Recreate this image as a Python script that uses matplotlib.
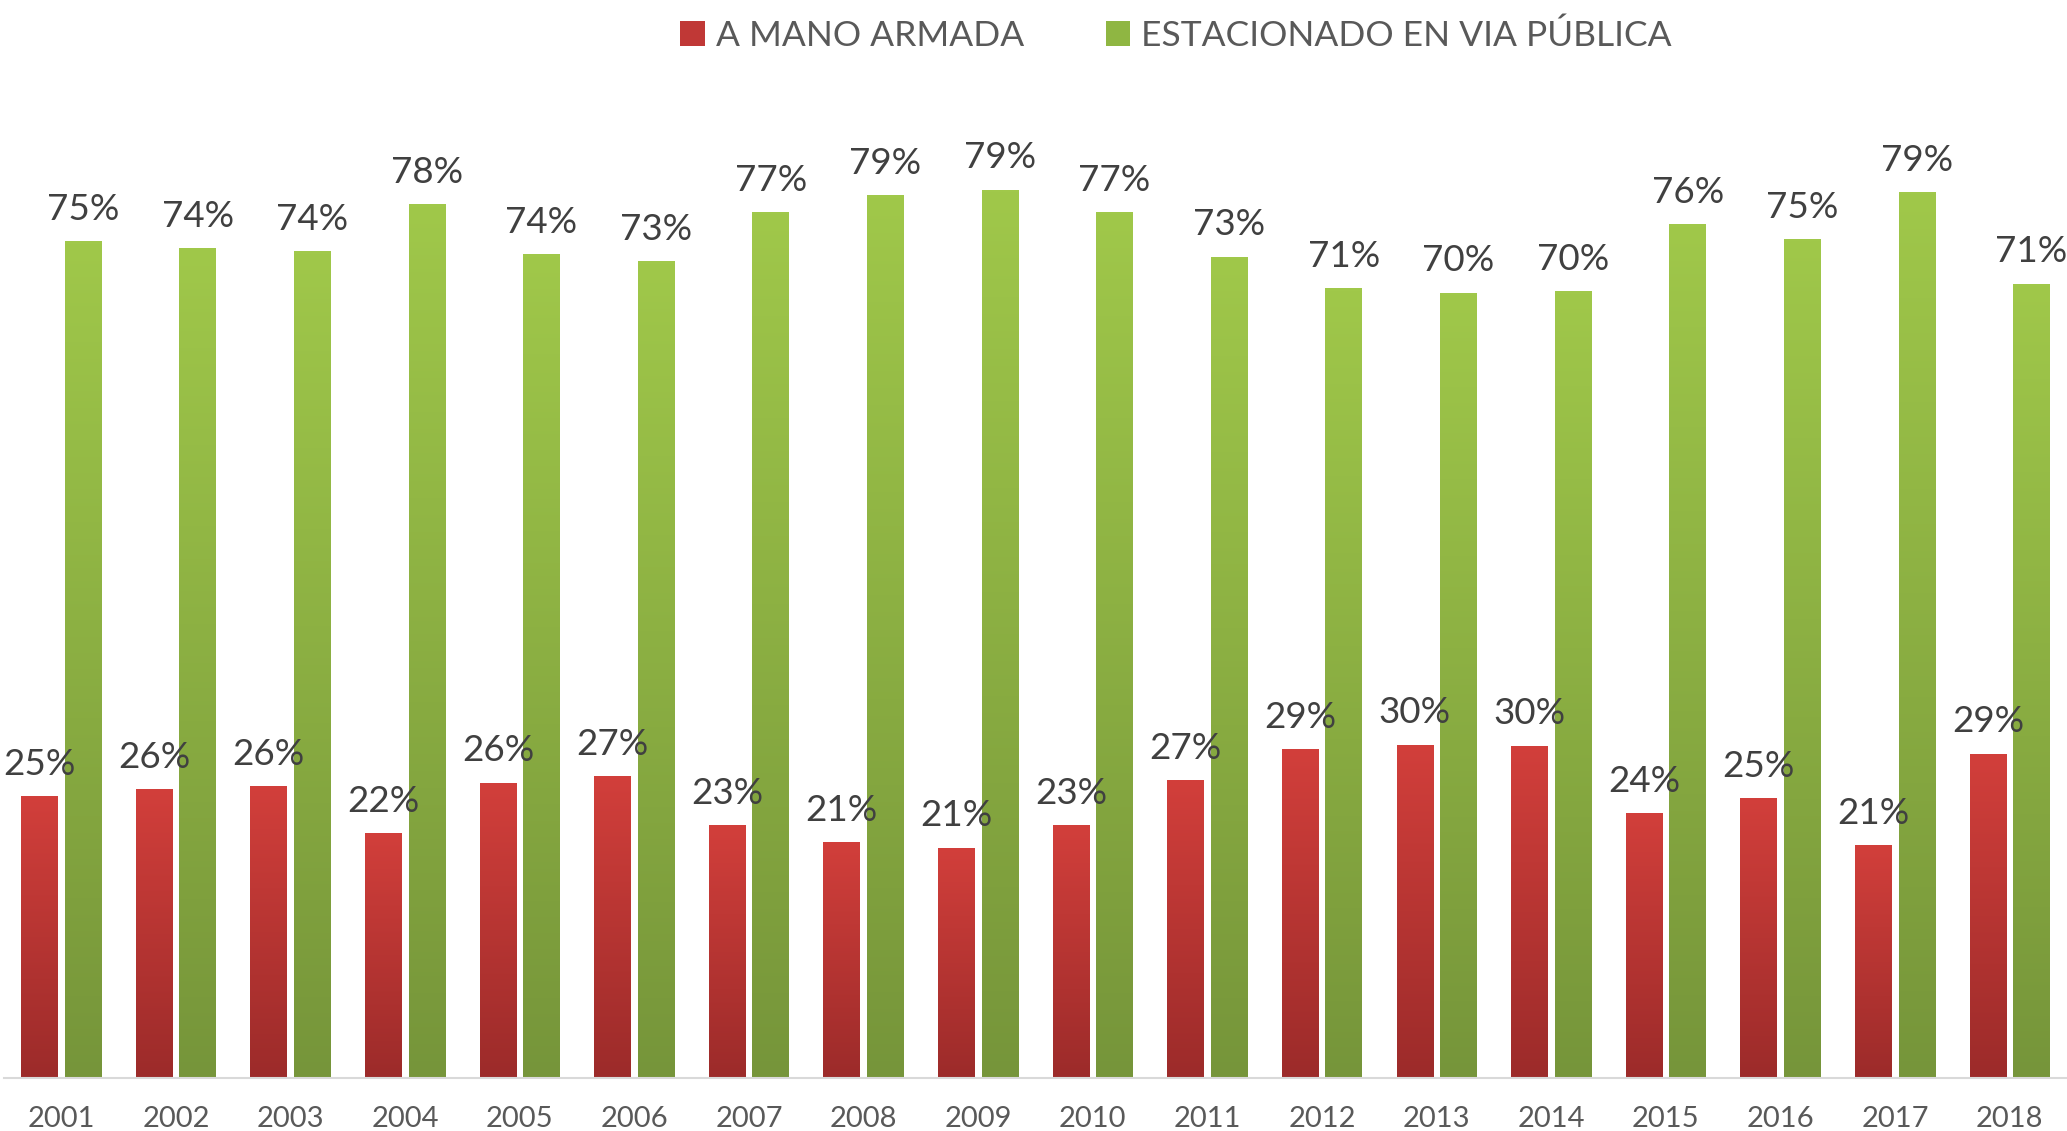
import numpy as np
import matplotlib as mpl
mpl.use('Agg')
import matplotlib.pyplot as plt
from matplotlib.patches import Patch
from matplotlib.colors import LinearSegmentedColormap

years = ['2001', '2002', '2003', '2004', '2005', '2006', '2007', '2008', '2009',
         '2010', '2011', '2012', '2013', '2014', '2015', '2016', '2017', '2018']
armada = [25.2, 25.8, 26.1, 21.9, 26.4, 27.0, 22.6, 21.1, 20.6,
          22.6, 26.6, 29.4, 29.8, 29.7, 23.7, 25.0, 20.8, 29.0]
via_publica = [74.8, 74.2, 73.9, 78.1, 73.6, 73.0, 77.4, 78.9, 79.4,
               77.4, 73.4, 70.6, 70.2, 70.3, 76.3, 75.0, 79.2, 71.0]
series_names = ['A MANO ARMADA', 'ESTACIONADO EN VIA PÚBLICA']

plt.rcParams['font.family'] = ['Lato', 'DejaVu Sans']

red_cmap = LinearSegmentedColormap.from_list('r', ['#9c2b2a', '#d23f3b'])
green_cmap = LinearSegmentedColormap.from_list('g', ['#76953a', '#a0c84a'])

fig = plt.figure(figsize=(20.67, 11.31), dpi=100)
ax = fig.add_axes([4 / 2067, 53 / 1131, 1 - 4 / 2067, 1007 / 1131])

x = np.arange(len(years))
w = 0.32
gap = 0.06
grad = np.linspace(0, 1, 256).reshape(-1, 1)


def gradient_bars(xpos, vals, cmap):
    bars = ax.bar(xpos, vals, w, color='none', edgecolor='none')
    for b in bars:
        x0, y0 = b.get_x(), b.get_y()
        im = ax.imshow(grad, cmap=cmap, origin='lower', aspect='auto',
                       extent=(x0, x0 + b.get_width(), y0, y0 + b.get_height()),
                       zorder=2)
        im.set_clip_path(b)
    return bars


bars_r = gradient_bars(x - (w + gap) / 2, armada, red_cmap)
bars_g = gradient_bars(x + (w + gap) / 2, via_publica, green_cmap)

for bars, vals in ((bars_r, armada), (bars_g, via_publica)):
    for b, v in zip(bars, vals):
        ax.annotate(f'{v:.0f}%', (b.get_x() + b.get_width() / 2, b.get_height()),
                    xytext=(0, 11), textcoords='offset points', ha='center',
                    va='bottom', fontsize=26.5, color='#404040')

ax.set_xlim(-0.5, len(years) - 0.5)
ax.set_ylim(0, 90)
ax.set_xticks(x)
ax.set_xticklabels(years, fontsize=21, color='#595959')
ax.tick_params(axis='x', length=0, pad=20)
ax.set_yticks([])
for s in ['top', 'left', 'right']:
    ax.spines[s].set_visible(False)
ax.spines['bottom'].set_color('#d9d9d9')
ax.spines['bottom'].set_linewidth(1.5)

handles = [Patch(facecolor='#c03836', edgecolor='none'),
           Patch(facecolor='#8fb642', edgecolor='none')]
fig.legend(handles, series_names, loc='center', bbox_to_anchor=(1176 / 2067, 1 - 36 / 1131),
           ncol=2, frameon=False, fontsize=25.5, handlelength=0.7, handleheight=0.7,
           handletextpad=0.3, columnspacing=2.3, labelcolor='#595959')

fig.savefig('out.png', dpi=100)
